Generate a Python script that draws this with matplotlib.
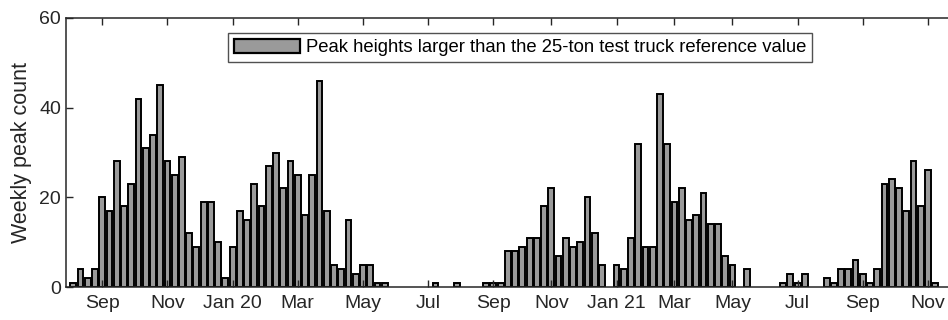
import matplotlib
matplotlib.use("Agg")
import matplotlib.pyplot as plt
import numpy as np

# Weekly peak counts, one value per week starting with the week of 4 Aug 2019
weekly_counts = [
    1, 4, 2, 4, 20, 17, 28, 18, 23, 42, 31, 34, 45, 28, 25, 29, 12, 9, 19, 19,
    10, 2, 9, 17, 15, 23, 18, 27, 30, 22, 28, 25, 16, 25, 46, 17, 5, 4, 15, 3,
    5, 5, 1, 1, 0, 0, 0, 0, 0, 0, 1, 0, 0, 1, 0, 0, 0, 1, 1, 1,
    8, 8, 9, 11, 11, 18, 22, 7, 11, 9, 10, 20, 12, 5, 0, 5, 4, 11, 32, 9,
    9, 43, 32, 19, 22, 15, 16, 21, 14, 14, 7, 5, 0, 4, 0, 0, 0, 0, 1, 3,
    1, 3, 0, 0, 2, 1, 4, 4, 6, 3, 1, 4, 23, 24, 22, 17, 28, 18, 26, 1,
]
# week index at which each month tick sits
tick_weeks = [4, 13, 22, 31, 40, 49, 58, 66, 75, 83, 91, 100, 109, 118]
tick_labels = ["Sep", "Nov", "Jan 20", "Mar", "May", "Jul", "Sep", "Nov",
               "Jan 21", "Mar", "May", "Jul", "Sep", "Nov"]
legend_label = "Peak heights larger than the 25-ton test truck reference value"

plt.rcParams['font.family'] = ['Liberation Sans', 'DejaVu Sans']
dark = '#262626'

fig = plt.figure(figsize=(9.48, 3.2), dpi=100)
ax = fig.add_axes([66/948, 33/320, 891/948, 269/320])

x = np.arange(len(weekly_counts))
counts = np.array(weekly_counts)
lws = np.where(counts > 0, 1.4, 0.0)
ax.bar(x, counts, width=0.8, color='#9a9a9a', edgecolor='black',
       linewidth=lws, label=legend_label)

ax.set_xlim(-1, 122)
ax.set_ylim(0, 60)
ax.set_yticks([0, 20, 40, 60])
ax.set_xticks(tick_weeks)
ax.set_xticklabels(tick_labels)
ax.tick_params(axis='both', direction='in', length=5, width=1, colors=dark,
               labelsize=14, top=True, right=True)
ax.tick_params(axis='x', pad=6)
for s in ax.spines.values():
    s.set_color(dark)
    s.set_linewidth(1.1)
ax.set_ylabel("Weekly peak count", fontsize=15.5, color=dark, labelpad=5)

leg = ax.legend(loc='upper center', fontsize=13.3, frameon=True,
                fancybox=False, handlelength=3.6, handleheight=0.8,
                borderpad=0.3, handletextpad=0.3, borderaxespad=0.0)
leg.get_frame().set_edgecolor(dark)
leg.get_frame().set_linewidth(1)
leg.get_patches()[0].set_linewidth(1.6)
leg.set_bbox_to_anchor((520/948, 0, 0, 1 - 33/320), transform=fig.transFigure)

fig.savefig("out.png", dpi=100)
